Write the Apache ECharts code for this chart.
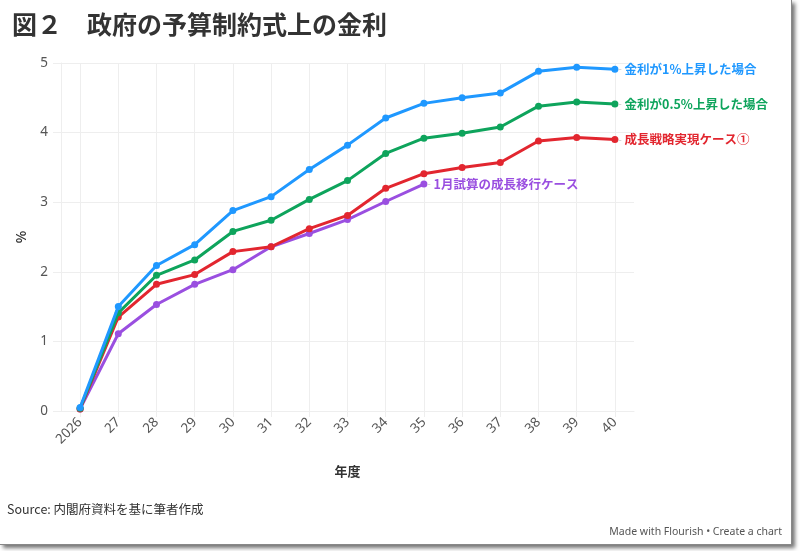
<!DOCTYPE html>
<html><head><meta charset="utf-8">
<script src="https://cdn.jsdelivr.net/npm/echarts@6/dist/echarts.min.js"></script>
<style>
html,body{margin:0;padding:0;background:#fff;}
#frame{position:absolute;left:0;top:0;width:791px;height:544px;border-right:1px solid #888;border-bottom:1px solid #888;box-shadow:3px 3px 4px rgba(0,0,0,0.55);background:#fff;}
#chart{position:absolute;left:0;top:0;width:791px;height:544px;}
</style></head>
<body><div id="frame"><div id="chart"></div></div>
<script>
const categories = ['2026','27','28','29','30','31','32','33','34','35','36','37','38','39','40'];
const seriesNames = ['金利が1%上昇した場合','金利が0.5%上昇した場合','成長戦略実現ケース①','1月試算の成長移行ケース'];
const rate1pct   = [0.05,1.50,2.09,2.39,2.88,3.08,3.47,3.82,4.21,4.42,4.50,4.57,4.88,4.94,4.91];
const rate05pct  = [0.04,1.41,1.95,2.17,2.58,2.74,3.04,3.31,3.70,3.92,3.99,4.08,4.38,4.44,4.41];
const growthCase = [0.03,1.35,1.82,1.96,2.29,2.36,2.62,2.81,3.20,3.41,3.50,3.57,3.88,3.93,3.90];
const janCase    = [0.03,1.11,1.53,1.82,2.03,2.36,2.55,2.75,3.01,3.26];
const yTicks = [0,1,2,3,4,5];
const colors = ['#1f98ff','#0ea45c','#e2262f','#9a4fe0'];

const chart = echarts.init(document.getElementById('chart'));
const dataSets = [rate1pct, rate05pct, growthCase, janCase];
const series = dataSets.map((d,i)=>({
  name: seriesNames[i], type:'line', data:d, z: 10-i,
  symbol:'circle', symbolSize:7,
  lineStyle:{width:3,color:colors[i]}, itemStyle:{color:colors[i]},
  emphasis:{disabled:true},
  endLabel:{show:true, formatter:p=>'{g|-} '+p.seriesName, color:colors[i], fontWeight:'bold', fontSize:12.5,
    fontFamily:'"Noto Sans CJK JP"', distance:3,
    rich:{g:{color:'#ccc', fontSize:11, fontWeight:'normal'}}}
}));
chart.setOption({
  animation:false,
  textStyle:{fontFamily:'"Noto Sans CJK JP"'},
  grid:{left:61, right:157, top:63, bottom:133},
  title:{text:'図２　政府の予算制約式上の金利', left:7, top:7,
    textStyle:{fontSize:25, fontWeight:'bold', color:'#333', fontFamily:'"Noto Sans CJK JP"'}},
  xAxis:{type:'category', data:categories, boundaryGap:true,
    name:'年度', nameLocation:'middle', nameGap:54,
    nameTextStyle:{fontSize:13, fontWeight:'bold', color:'#333'},
    axisLine:{lineStyle:{color:'#eee'}},
    axisTick:{show:true, alignWithLabel:true, length:6, lineStyle:{color:'#eee'}},
    splitLine:{show:true, alignWithLabel:true, lineStyle:{color:'#eee'}},
    axisLabel:{rotate:45, fontSize:13.5, color:'#555', margin:9, fontFamily:'"Noto Sans"'}},
  yAxis:{type:'value', min:0, max:5, interval:1,
    name:'%', nameLocation:'middle', nameGap:33, nameRotate:90,
    nameTextStyle:{fontSize:13, fontWeight:'bold', color:'#333'},
    axisLine:{show:true, lineStyle:{color:'#eee'}},
    axisTick:{show:true, length:8, lineStyle:{color:'#eee'}},
    splitLine:{lineStyle:{color:'#eee'}},
    axisLabel:{fontSize:13.5, color:'#555', margin:13, fontFamily:'"Noto Sans"',
      formatter:v=>yTicks.includes(v)?String(v):''}},
  graphic:[
    {type:'text', left:7, top:503, style:{text:'Source: 内閣府資料を基に筆者作成', fontSize:12.5, fill:'#333', fontFamily:'"Noto Sans CJK JP"'}},
    {type:'text', right:9, top:527, style:{text:'Made with Flourish • Create a chart', fontSize:10.5, fill:'#555', fontFamily:'"Noto Sans"'}}
  ],
  series: series
});
</script></body></html>
